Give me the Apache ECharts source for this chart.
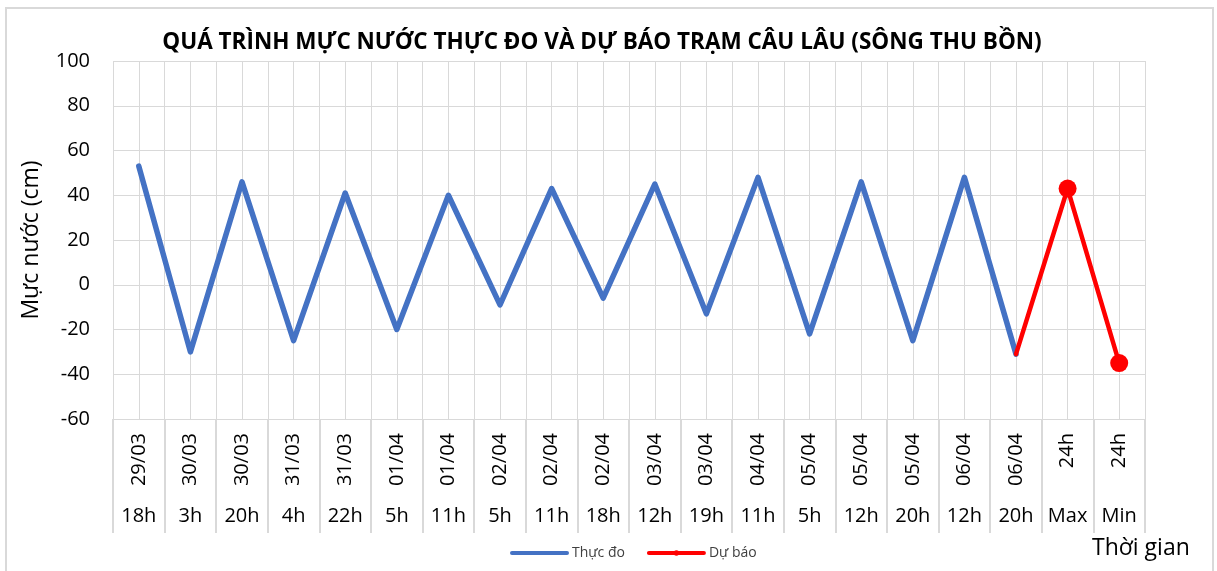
<!DOCTYPE html>
<html>
<head>
    <meta charset="UTF-8">
    <title>Câu Lâu</title>
    <script type="text/javascript" src="https://cdn.jsdelivr.net/npm/echarts@6/dist/echarts.min.js"></script>
    <style>
        html, body { margin: 0; padding: 0; background: #fff; }
        #myChart { width: 1217px; height: 571px; }
    </style>
</head>
<body>
<div id="myChart"></div>
<script>
// du lieu doc tu hinh
var ngay = ['29/03', '30/03', '30/03', '31/03', '31/03', '01/04', '01/04', '02/04', '02/04', '02/04',
            '03/04', '03/04', '04/04', '05/04', '05/04', '05/04', '06/04', '06/04', '24h', '24h'];
var gio = ['18h', '3h', '20h', '4h', '22h', '5h', '11h', '5h', '11h', '18h',
           '12h', '19h', '11h', '5h', '12h', '20h', '12h', '20h', 'Max', 'Min'];
var thucDo = [53, -30, 46, -25, 41, -20, 40, -9, 43, -6, 45, -13, 48, -22, 46, -25, 48, -31, null, null];
var duBao = [null, null, null, null, null, null, null, null, null, null,
             null, null, null, null, null, null, null, -31, 43, -35];

var fontFam = '"Open Sans", "Noto Sans", sans-serif';
var gridColor = '#d9d9d9';

var chart = echarts.init(document.getElementById('myChart'), null, {renderer: 'canvas'});

// diem dau cua du bao khong co marker
var duBaoData = duBao.map(function (v, i) {
    if (i === 17) return {value: v, symbolSize: 0};
    return v;
});

var option = {
    backgroundColor: '#fff',
    animation: false,
    textStyle: {fontFamily: fontFam},
    title: {
        text: 'QUÁ TRÌNH MỰC NƯỚC THỰC ĐO VÀ DỰ BÁO TRẠM CÂU LÂU (SÔNG THU BỒN)',
        left: 597,
        textAlign: 'center',
        top: 26,
        textStyle: {fontSize: 22.5, fontWeight: 'bold', color: '#000', fontFamily: fontFam}
    },
    legend: {
        left: 505,
        top: 541,
        itemWidth: 55,
        itemHeight: 7,
        itemGap: 22,
        lineStyle: {width: 4, cap: 'round'},
        textStyle: {fontSize: 14, color: '#404040'},
        data: [
            {name: 'Thực đo', itemStyle: {opacity: 0}},
            {name: 'Dự báo'}
        ]
    },
    grid: {left: 113, right: 72, top: 61, bottom: 152},
    xAxis: [
        {
            type: 'category',
            data: ngay,
            position: 'bottom',
            boundaryGap: true,
            axisLine: {show: true, onZero: false, lineStyle: {color: gridColor, width: 1}},
            axisTick: {show: true, interval: 0, length: 114, lineStyle: {color: gridColor, width: 2}},
            axisLabel: {interval: 0, rotate: 90, margin: 14, fontSize: 20, color: '#000'},
            splitLine: {show: false}
        },
        {
            type: 'category',
            data: gio,
            position: 'bottom',
            gridIndex: 0,
            boundaryGap: true,
            axisLine: {show: false, onZero: false},
            axisTick: {show: false},
            axisLabel: {interval: 0, margin: 87, fontSize: 20, color: '#000'},
            splitLine: {show: false}
        },
        {
            // luoi doc moi nua o
            type: 'value',
            position: 'top',
            min: 0,
            max: 40,
            interval: 1,
            axisLine: {show: false, onZero: false},
            axisTick: {show: false},
            axisLabel: {show: false},
            splitLine: {show: true, lineStyle: {color: gridColor, width: 1}}
        }
    ],
    yAxis: {
        type: 'value',
        min: -60,
        max: 100,
        interval: 20,
        name: 'Mực nước (cm)',
        nameLocation: 'middle',
        nameGap: 70,
        nameTextStyle: {fontSize: 23, color: '#000'},
        axisLine: {show: false},
        axisTick: {show: false},
        axisLabel: {fontSize: 20, color: '#000', margin: 23},
        splitLine: {show: true, lineStyle: {color: gridColor, width: 1}}
    },
    graphic: [
        {
            type: 'rect',
            shape: {x: 6, y: 8, width: 1207, height: 580},
            style: {fill: 'none', stroke: '#d9d9d9', lineWidth: 2},
            silent: true
        },
        {
            type: 'text',
            left: 1092,
            top: 537,
            style: {text: 'Thời gian', fontSize: 23, fill: '#000', fontFamily: fontFam}
        }
    ],
    series: [
        {
            name: 'Thực đo',
            type: 'line',
            xAxisIndex: 0,
            data: thucDo,
            showSymbol: false,
            symbol: 'none',
            lineStyle: {color: '#4472c4', width: 5.5, cap: 'round', join: 'round'},
            itemStyle: {color: '#4472c4'},
            connectNulls: false,
            z: 3
        },
        {
            name: 'Dự báo',
            type: 'line',
            xAxisIndex: 0,
            data: duBaoData,
            symbol: 'circle',
            symbolSize: 18,
            showAllSymbol: true,
            lineStyle: {color: '#ff0000', width: 4.5, cap: 'round', join: 'round'},
            itemStyle: {color: '#ff0000'},
            z: 4
        }
    ]
};

chart.setOption(option);
</script>
</body>
</html>
